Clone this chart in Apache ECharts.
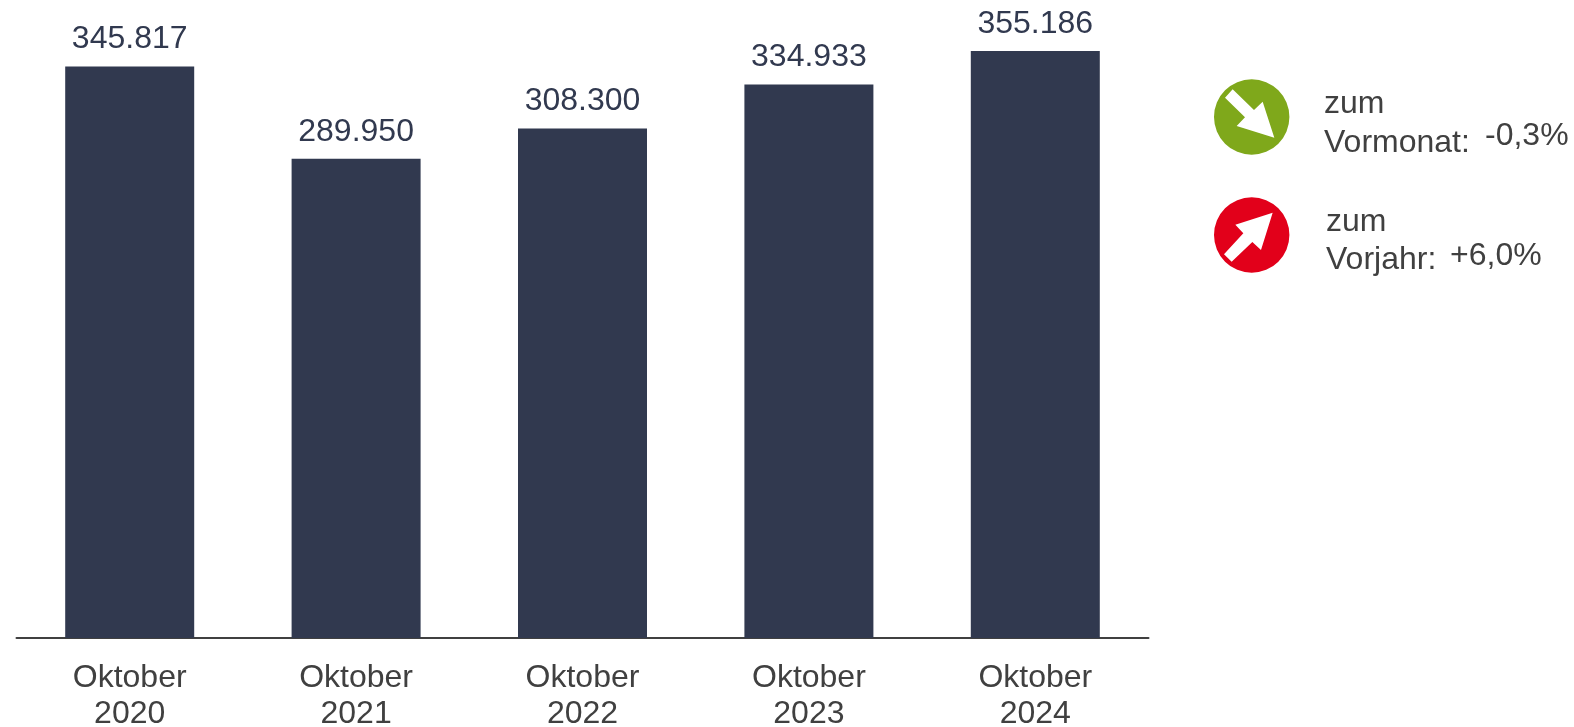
<!DOCTYPE html>
<html><head><meta charset="utf-8">
<style>html,body{margin:0;padding:0;background:#fff}#c{width:1574px;height:727px}</style>
<script src="https://cdn.jsdelivr.net/npm/echarts@6/dist/echarts.min.js"></script>
</head><body><div id="c"></div>
<script>
const categories = ['Oktober\n2020','Oktober\n2021','Oktober\n2022','Oktober\n2023','Oktober\n2024'];
const values = [345817, 289950, 308300, 334933, 355186];
const valueLabels = ['345.817','289.950','308.300','334.933','355.186'];
const FONT = '"Liberation Sans", Arial, sans-serif';
const GREY = '#404040', NAVY = '#31394F';
const txt = (x, y, s, fill) => ({type:'text', x, y:y-24, style:{text:s, fill:fill||GREY, font:'32px '+FONT}});
const pts = (a, ox, oy) => a.map(p => [ox+p[0]/3, oy+p[1]/3]);
const chart = echarts.init(document.getElementById('c'), null, {renderer:'canvas'});
chart.setOption({
  animation:false,
  backgroundColor:'#fff',
  grid:{left:16.5, width:1132, top:10, bottom:89, containLabel:false, outerBoundsMode:'none'},
  xAxis:{type:'category', data:categories, boundaryGap:true,
    axisTick:{show:false},
    axisLine:{lineStyle:{color:GREY, width:2}},
    axisLabel:{color:GREY, fontFamily:FONT, fontSize:32, lineHeight:36, margin:22, interval:0}},
  yAxis:{type:'value', min:0, max:380000, show:false, splitLine:{show:false}},
  series:[{type:'bar', data:values, barWidth:129,
    itemStyle:{color:NAVY},
    label:{show:true, position:'top', distance:11, color:NAVY, fontFamily:FONT, fontSize:32,
      formatter:p => valueLabels[p.dataIndex]}}],
  graphic:[
    {type:'circle', shape:{cx:1251.7, cy:117, r:37.7}, style:{fill:'#7FA81B'}},
    {type:'polygon', shape:{points:pts([[128,88],[192,150],[218,125],[253,233],[140,198],[165,172],[105,113]],1190,60)}, style:{fill:'#fff'}},
    {type:'circle', shape:{cx:1251.7, cy:235, r:37.7}, style:{fill:'#E2001A'}},
    {type:'polygon', shape:{points:pts([[248,458],[136,494],[160,520],[102,583],[125,605],[187,546],[213,570]],1190,60)}, style:{fill:'#fff'}},
    txt(1324,112,'zum'), txt(1324,151,'Vormonat:'), txt(1485,144.5,'-0,3%'),
    txt(1326,230,'zum'), txt(1326,268,'Vorjahr:'), txt(1450,264,'+6,0%')
  ]
});
</script></body></html>
